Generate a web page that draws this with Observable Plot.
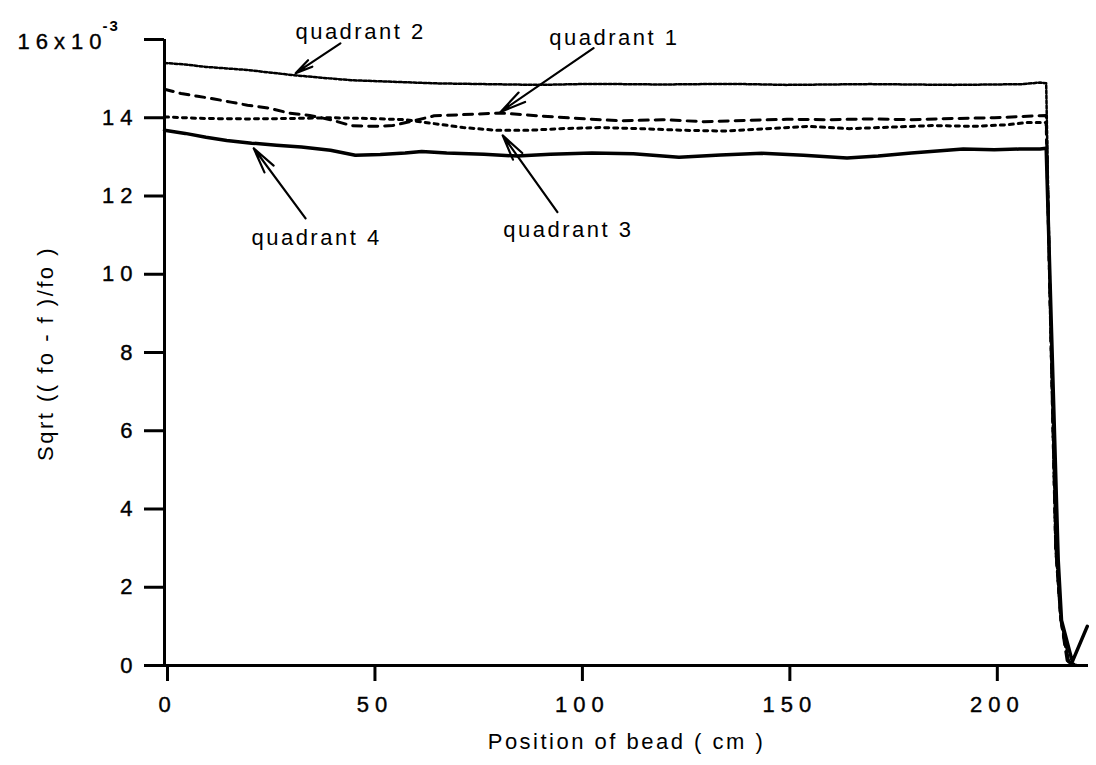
<!DOCTYPE html>
<html><head><meta charset="utf-8">
<script src="https://cdn.jsdelivr.net/npm/d3@7"></script>
<script src="https://cdn.jsdelivr.net/npm/@observablehq/plot@0.6"></script>
<style>
body{margin:0;background:#fff}
svg{font-family:"Liberation Sans",Arial,sans-serif}
g[aria-label="y-axis tick label"] text, g[aria-label="x-axis tick label"] text{letter-spacing:6px;stroke:#000;stroke-width:0.4px}
</style>
</head><body><div id="chart"></div>
<script>
// x positions (cm) and values (x10^-3) for each quadrant
const q2X = [0,5,10,15,20,25,31,38,45,55,65,77,90,100,110,120,130,140,150,160,170,180,190,200,207,211,212.5,213.5,214.8,216,218,220,222];
const q2Y = [15.40,15.36,15.30,15.26,15.22,15.16,15.09,15.02,14.96,14.92,14.88,14.86,14.84,14.86,14.86,14.85,14.86,14.86,14.84,14.85,14.86,14.85,14.84,14.85,14.86,14.90,14.88,9,3,1.2,0.1,0,0];
const q1X = [0,4,8,12,16,20,25,30,35,40,45,50,55,60,65,72,81,90,100,110,120,130,140,150,160,170,180,190,200,206,212.5,213.5,214.8,216,217.6,219];
const q1Y = [14.73,14.62,14.55,14.48,14.4,14.32,14.25,14.12,14.06,13.95,13.8,13.78,13.8,13.92,14.05,14.08,14.12,14.05,13.98,13.92,13.95,13.9,13.93,13.96,13.95,13.97,13.95,13.98,14.0,14.03,14.06,9,3,1.2,0.1,0];
const q3X = [0,10,20,30,40,50,58,65,72,80,88,95,105,115,125,135,145,155,165,175,185,195,203,208,212.5,213.5,214.8,216,217.8,219];
const q3Y = [14.02,13.98,13.97,13.98,14.0,13.98,13.95,13.85,13.75,13.68,13.68,13.72,13.75,13.72,13.68,13.66,13.72,13.78,13.72,13.76,13.8,13.78,13.82,13.88,13.88,9,3,1.2,0.1,0];
const q4X = [0,5,10,15,21,27,33,40,46,52,58,62,68,77,85,93,103,113,124,134,144,154,164.5,172,180,192.5,200,206,211,212.5,213.8,215.4,216.2,218.8,222.4];
const q4Y = [13.68,13.6,13.5,13.42,13.35,13.3,13.25,13.17,13.04,13.06,13.1,13.14,13.1,13.07,13.02,13.07,13.1,13.08,12.99,13.05,13.09,13.04,12.97,13.02,13.1,13.2,13.18,13.2,13.2,13.22,8.5,2.7,1.15,0.1,1.0];

const xTicks = [0,50,100,150,200];
const yTicks = [0,2,4,6,8,10,12,14,16];

const labelText = ["quadrant 2","quadrant 1","quadrant 3","quadrant 4"];
const labelX = [47,108.2,97.1,36.4];
const labelY = [16.2,16.05,11.12,10.92];
const arrowX1 = [42.4,103.4,94.7,34];
const arrowY1 = [15.9,15.78,11.59,11.43];
const arrowX2 = [31.6,81,81.5,21.5];
const arrowY2 = [15.14,14.15,13.55,13.22];

const zip = (xs, ys) => xs.map((x, i) => ({x, v: ys[i]}));
const labels = labelText.map((t, i) => ({t, x: labelX[i], y: labelY[i]}));
const arrows = arrowX1.map((x1, i) => ({x1, y1: arrowY1[i], x2: arrowX2[i], y2: arrowY2[i]}));

const chart = Plot.plot({
  width: 1096, height: 765,
  marginLeft: 164, marginRight: 8, marginTop: 39, marginBottom: 100,
  style: {background: "#fff", color: "#000", fontFamily: "'Liberation Sans', Arial, sans-serif"},
  x: {domain: [0, 222.7]},
  y: {domain: [0, 16]},
  marks: [
    Plot.axisY(yTicks, {tickSize: 20, tickPadding: 6, strokeWidth: 3, fontSize: 22, tickFormat: d => d === 16 ? "" : d, label: null}),
    Plot.axisX(xTicks, {tickSize: 16, tickPadding: 15, strokeWidth: 3, fontSize: 22, dx: 3, label: null}),
    Plot.text(["16x10"], {frameAnchor: "top-left", dx: -57, dy: 2, textAnchor: "end", lineAnchor: "middle", fontSize: 22, text: d => d}),
    Plot.text(["-3"], {frameAnchor: "top-left", dx: -62, dy: -13, textAnchor: "start", lineAnchor: "middle", fontSize: 15, fontWeight: "bold", text: d => d}),
    Plot.text(["Sqrt (( fo - f )/fo )"], {frameAnchor: "left", dx: -119, dy: 1, rotate: -90, textAnchor: "middle", lineAnchor: "middle", fontSize: 22, text: d => d}),
    Plot.text(["Position of bead ( cm )"], {frameAnchor: "bottom", dx: 0, dy: 83, fontSize: 22, text: d => d}),
    Plot.ruleX([0], {y1: 0, y2: 16, strokeWidth: 3}),
    Plot.ruleY([0], {x1: 0, x2: 222.7, strokeWidth: 3}),
    Plot.line(zip(q2X, q2Y), {x: "x", y: "v", strokeWidth: 2.5, strokeDasharray: "3,2"}),
    Plot.line(zip(q1X, q1Y), {x: "x", y: "v", strokeWidth: 3, strokeDasharray: "9,7"}),
    Plot.line(zip(q3X, q3Y), {x: "x", y: "v", strokeWidth: 3, strokeDasharray: "4,5"}),
    Plot.line(zip(q4X, q4Y), {x: "x", y: "v", strokeWidth: 3.5}),
    Plot.arrow(arrows, {x1: "x1", y1: "y1", x2: "x2", y2: "y2", strokeWidth: 2.2, headLength: 18, headAngle: 25}),
    Plot.text(labels, {x: "x", y: "y", text: "t", fontSize: 22, dx: 1})
  ]
});
// letter spacing tweaks to mimic the original typewriter-like spacing
d3.select(chart).selectAll("text").each(function() {
  const t = this.textContent;
  if (t === "16x10") this.setAttribute("style", "letter-spacing:6px;stroke:#000;stroke-width:0.4px");
  else if (t === "-3") this.setAttribute("style", "letter-spacing:2px");
  else if (t.startsWith("quadrant") || t.startsWith("Sqrt") || t.startsWith("Position")) this.setAttribute("style", "letter-spacing:2.5px");
});
document.getElementById("chart").appendChild(chart);
</script>
</body></html>
